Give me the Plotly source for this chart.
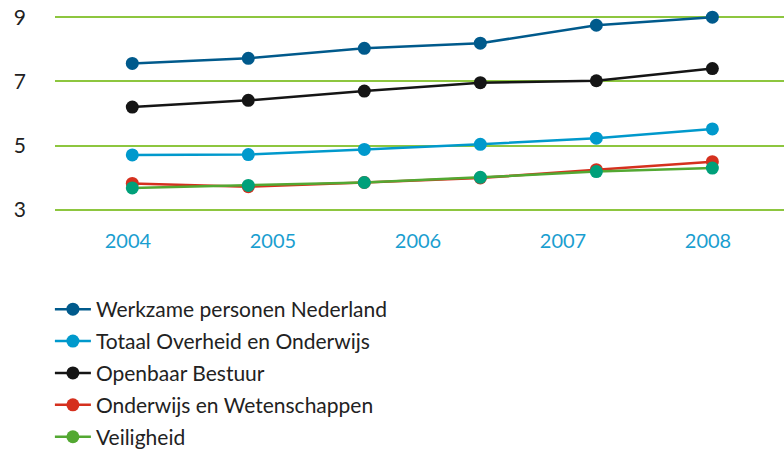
import plotly.graph_objects as go

periods = [2004.03, 2004.83, 2005.63, 2006.43, 2007.23, 2008.03]
year_ticks = [2004, 2005, 2006, 2007, 2008]
y_ticks = [3, 5, 7, 9]

werkzame = [7.56, 7.72, 8.03, 8.19, 8.75, 9.0]
totaal = [4.71, 4.72, 4.88, 5.04, 5.23, 5.52]
openbaar = [6.20, 6.41, 6.70, 6.96, 7.02, 7.40]
onderwijs = [3.82, 3.72, 3.85, 3.99, 4.25, 4.50]
veiligheid = [3.68, 3.76, 3.85, 4.01, 4.19, 4.30]

series = [
    ("Werkzame personen Nederland", werkzame, "#005a8c", "#005a8c"),
    ("Totaal Overheid en Onderwijs", totaal, "#0099cc", "#0099cc"),
    ("Openbaar Bestuur", openbaar, "#151515", "#151515"),
    ("Onderwijs en Wetenschappen", onderwijs, "#d5301e", "#d5301e"),
    ("Veiligheid", veiligheid, "#53a832", "#00a07a"),
]

fig = go.Figure()
for i, (name, vals, lc, mc) in enumerate(series):
    is_last = name == "Veiligheid"
    fig.add_trace(go.Scatter(
        x=periods, y=vals, mode="lines+markers", name=name,
        line=dict(color=lc, width=2.5),
        marker=dict(color=mc, size=13),
        cliponaxis=False,
        legendgroup=f"g{i}",
        showlegend=not is_last,
    ))
    if is_last:
        fig.add_trace(go.Scatter(
            x=[None], y=[None], mode="lines+markers", name=name,
            line=dict(color=lc, width=2.5),
            marker=dict(color=lc, size=13),
            legendgroup=f"g{i}", showlegend=True,
        ))

fig.update_layout(
    width=784, height=451,
    margin=dict(l=55, r=0, t=14, b=238, autoexpand=False),
    paper_bgcolor="white", plot_bgcolor="white",
    font=dict(family="Lato, Open Sans, sans-serif", size=21, color="#222222"),
    showlegend=True,
    legend=dict(
        x=-0.007, y=-0.382, xanchor="left", yanchor="top",
        font=dict(size=21, color="#222222"),
        tracegroupgap=1.6, itemwidth=36,
        bgcolor="rgba(0,0,0,0)",
    ),
    xaxis=dict(
        range=[2003.497, 2008.524],
        tickvals=year_ticks, ticktext=[str(y) for y in year_ticks],
        showgrid=False, zeroline=False, showline=False,
        ticks="", ticklabelstandoff=14, automargin=False,
        tickfont=dict(size=20, color="#1a9ed0"),
    ),
    yaxis=dict(
        range=[2.9, 9.1], tickvals=y_ticks,
        showgrid=True, gridcolor="#8dc63f", gridwidth=2,
        zeroline=False, showline=False, ticks="",
        ticklabelstandoff=28, automargin=False,
        tickfont=dict(size=21, color="#222222"),
    ),
)

fig.write_html(
    "out.html",
    config={"displayModeBar": False},
    post_script="document.body.style.margin='0';document.body.style.overflow='hidden';",
)
